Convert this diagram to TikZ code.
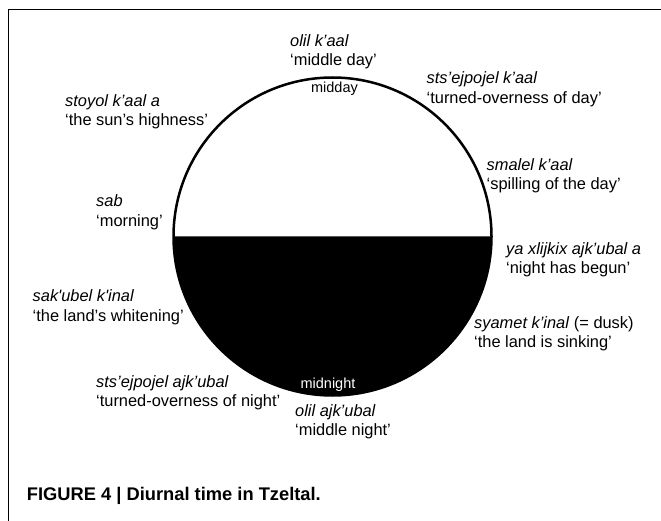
\documentclass[tikz,border=0pt]{standalone}
\usepackage{fontspec}
\setmainfont{Liberation Sans}
\begin{document}
\begin{tikzpicture}[x=1pt, y=-1pt,
    gloss/.style={anchor=base west, align=left, inner sep=0pt, yshift=-19.5pt,
                  font=\fontsize{16.4}{19.5}\selectfont},
    hour/.style={anchor=base, inner sep=0pt, font=\fontsize{14.5}{17}\selectfont},
    rim/.style={line width=2.5pt},
]
\useasboundingbox (0,0) rectangle (661,521);
\draw[line width=1pt] (661,9.5) -- (8.5,9.5) -- (8.5,521);
% the day: white upper half, black lower half
\coordinate (c) at (332.5,236.5);
\fill (c) ++(-159,0) arc[start angle=180, end angle=0, radius=159] -- cycle;
\draw[rim] (c) circle[radius=159];
\node[hour] (midday) at (334.5,93) {midday};
\node[hour, text=white] (midnight) at (328,388) {midnight};
% glosses round the circle
\node[gloss] (olilk)   at (290,46.5)  {\textit{olil k’aal}\\‘middle day’};
\node[gloss] (stsk)    at (426.5,84)  {\textit{sts’ejpojel k’aal}\\‘turned-overness of day’};
\node[gloss] (stoyol)  at (65,106.5)  {\textit{stoyol k’aal a}\\‘the sun’s highness’};
\node[gloss] (smalel)  at (486.5,170.5) {\textit{smalel k’aal}\\‘spilling of the day’};
\node[gloss] (sab)     at (96,207)    {\textit{sab}\\‘morning’};
\node[gloss] (ya)      at (506,254)   {\textit{ya xlijkix ajk’ubal a}\\‘night has begun’};
\node[gloss] (sakubel) at (32.5,301.5) {\textit{sak\textquotesingle ubel k\textquotesingle inal}\\‘the land’s whitening’};
\node[gloss] (syamet)  at (474,328)   {\textit{syamet k’inal} (= dusk)\\‘the land is sinking’};
\node[gloss] (stsajk)  at (96,387.3)  {\textit{sts’ejpojel ajk’ubal}\\‘turned-overness of night’};
\node[gloss] (olilajk) at (295,416)   {\textit{olil ajk’ubal}\\‘middle night’};
\node[anchor=base west, inner sep=0pt, font=\bfseries\fontsize{18.3}{20}\selectfont]
    (caption) at (26.7,500) {FIGURE 4 | Diurnal time in Tzeltal.};
\end{tikzpicture}
\end{document}
